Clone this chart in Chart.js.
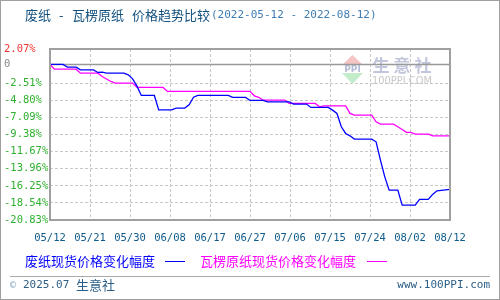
<!DOCTYPE html>
<html lang="zh-CN">
<head>
<meta charset="UTF-8">
<title>废纸 - 瓦楞原纸 价格趋势比较</title>
<script src="https://cdn.jsdelivr.net/npm/chart.js"></script>
<style>
    body { margin: 0; background: #fff; }
    #wrap { width: 500px; height: 300px; }
</style>
</head>
<body>
<div id="wrap"><canvas id="grafico" width="500" height="300"></canvas></div>
<script>
    // 横轴：自 2022-05-12 起的天数；纵轴：涨跌幅 %
    var xTickLabels = ['05/12', '05/21', '05/30', '06/08', '06/17', '06/27', '07/06', '07/15', '07/24', '08/02', '08/12'];
    var yTicks = [2.07, 0, -2.51, -4.80, -7.09, -9.38, -11.67, -13.96, -16.25, -18.54, -20.83];

    // 废纸现货价格变化幅度
    var feizhiDias = [0, 3, 4, 6, 7, 10, 11, 12, 13, 17, 18, 19, 20, 21, 24, 25, 28, 29, 31, 32,
        33, 34, 41, 42, 45, 46, 49, 50, 55, 56, 59, 60, 64, 65, 66, 67, 68, 69, 70, 74,
        75, 76, 77, 78, 80, 81, 84, 85, 87, 88, 89, 92];
    var feizhiValores = [0, 0, -0.36, -0.36, -0.72, -0.72, -1.07, -1.03, -1.16, -1.16, -1.39, -1.93, -2.9, -4.15, -4.15, -6.08, -6.08, -5.85, -5.85, -5.41,
        -4.38, -4.15, -4.15, -4.42, -4.42, -4.82, -4.82, -5.0, -5.0, -5.31, -5.31, -5.76, -5.76, -6.12, -6.56, -8.35, -9.24, -9.56, -10.0, -10.0,
        -10.36, -12.81, -15.05, -16.83, -16.83, -18.84, -18.84, -18.07, -18.07, -17.4, -16.92, -16.73];

    // 瓦楞原纸现货价格变化幅度
    var walengDias = [0, 1, 6, 7, 11, 12, 13, 14, 15, 19, 20, 26, 27, 46, 47, 48, 49, 54, 55, 61,
        62, 63, 68, 69, 70, 74, 75, 76, 79, 80, 81, 82, 83, 84, 87, 88, 92];
    var walengValores = [0, -0.63, -0.63, -1.16, -1.16, -1.61, -1.95, -2.28, -2.5, -2.5, -3.08, -3.08, -3.61, -3.61, -4.2, -4.4, -4.78, -4.78, -5.22, -5.22,
        -5.68, -5.54, -5.54, -6.56, -6.79, -6.79, -7.68, -7.99, -7.99, -8.35, -8.7, -9.1, -9.1, -9.33, -9.33, -9.56, -9.56];

    var totalDias = 92;
    var fonteMono = '"DejaVu Sans Mono", "Liberation Mono", monospace';
    var fonteCJK = '"Noto Sans CJK SC", sans-serif';

    function pontos(dias, valores) {
        return dias.map(function (d, i) { return { x: d, y: valores[i] }; });
    }

    // titulo, legenda, rodape, marca d'agua e moldura
    var decoracao = {
        id: 'decoracao',
        beforeDraw: function (chart) {
            var ctx = chart.ctx;
            ctx.save();
            ctx.fillStyle = '#fff';
            ctx.fillRect(0, 0, chart.width, chart.height);
            ctx.restore();
        },
        beforeDatasetsDraw: function (chart) {
            var ctx = chart.ctx;
            var y = chart.scales.y;
            var a = chart.chartArea;
            ctx.save();
            // marca d'agua
            ctx.fillStyle = '#f5c4c4';
            ctx.beginPath();
            ctx.moveTo(342, 65); ctx.lineTo(363, 65); ctx.lineTo(352.5, 55); ctx.closePath(); ctx.fill();
            ctx.fillStyle = '#c4ecca';
            ctx.beginPath();
            ctx.moveTo(342, 73); ctx.lineTo(363, 73); ctx.lineTo(352.5, 84); ctx.closePath(); ctx.fill();
            ctx.fillStyle = '#b4bcd8';
            ctx.font = 'bold 9px "DejaVu Sans", sans-serif';
            ctx.textAlign = 'center';
            ctx.textBaseline = 'middle';
            ctx.fillText('PPI', 352.5, 69.5);
            ctx.fillStyle = '#c2c6dc';
            ctx.font = 'bold 17px ' + fonteCJK;
            ['生', '意', '社'].forEach(function (c, i) { ctx.fillText(c, 381 + i * 21, 66); });
            ctx.fillStyle = '#c8c8c8';
            ctx.font = '10px "DejaVu Sans", sans-serif';
            ctx.textAlign = 'left';
            ctx.fillText('100PPI.COM', 372, 81, 60);
            // linha do zero
            var y0 = y.getPixelForValue(0);
            ctx.strokeStyle = '#999';
            ctx.lineWidth = 1.5;
            ctx.beginPath();
            ctx.moveTo(a.left, y0);
            ctx.lineTo(a.right, y0);
            ctx.stroke();
            ctx.restore();
        },
        afterDraw: function (chart) {
            var ctx = chart.ctx;
            var a = chart.chartArea;
            ctx.save();
            // moldura do grafico
            ctx.strokeStyle = '#a0a0a0';
            ctx.lineWidth = 2;
            ctx.strokeRect(a.left, a.top, a.right - a.left, a.bottom - a.top);
            // titulo
            ctx.textBaseline = 'middle';
            ctx.textAlign = 'left';
            ctx.fillStyle = '#13517f';
            ctx.font = '13px ' + fonteCJK;
            ctx.fillText('废纸', 25, 15);
            ctx.fillText('-', 59, 15);
            ctx.fillText('瓦楞原纸', 72, 15);
            ctx.fillText('价格趋势比较', 132, 15);
            ctx.fillStyle = '#3f7db3';
            ctx.font = '11px ' + fonteMono;
            ctx.fillText('(2022-05-12 - 2022-08-12)', 211, 15);
            // legenda
            var itens = [
                { x: 25, linha: 165, ds: chart.data.datasets[0] },
                { x: 200, linha: 367, ds: chart.data.datasets[1] }
            ];
            ctx.font = '13px ' + fonteCJK;
            itens.forEach(function (it) {
                ctx.fillStyle = it.ds.borderColor;
                ctx.fillText(it.ds.label, it.x, 261);
                ctx.strokeStyle = it.ds.borderColor;
                ctx.lineWidth = 1;
                ctx.beginPath();
                ctx.moveTo(it.linha, 261.5);
                ctx.lineTo(it.linha + 20, 261.5);
                ctx.stroke();
            });
            // rodape
            ctx.strokeStyle = '#aaa';
            ctx.lineWidth = 1;
            ctx.beginPath();
            ctx.moveTo(10, 276.5);
            ctx.lineTo(490, 276.5);
            ctx.stroke();
            ctx.fillStyle = '#8aa8c0';
            ctx.font = '10px ' + fonteMono;
            ctx.fillText('©', 10, 285);
            ctx.fillStyle = '#2b5f88';
            ctx.font = '11px ' + fonteMono;
            ctx.fillText('2025.07', 23, 285);
            ctx.font = '13px ' + fonteCJK;
            ctx.fillText('生意社', 76, 285);
            ctx.font = '11px ' + fonteMono;
            ctx.textAlign = 'right';
            ctx.fillText('www.100PPI.com', 490, 285);
            // borda externa
            ctx.strokeStyle = '#a0a0a0';
            ctx.lineWidth = 1;
            ctx.strokeRect(0.5, 0.5, 499, 299);
            ctx.restore();
        }
    };

    var ctx = document.getElementById('grafico').getContext('2d');
    var chart = new Chart(ctx, {
        type: 'line',
        data: {
            datasets: [{
                label: '废纸现货价格变化幅度',
                data: pontos(feizhiDias, feizhiValores),
                borderColor: '#0000ff',
                borderWidth: 1.3,
                pointRadius: 0,
                fill: false
            }, {
                label: '瓦楞原纸现货价格变化幅度',
                data: pontos(walengDias, walengValores),
                borderColor: '#ff00ff',
                borderWidth: 1.3,
                pointRadius: 0,
                fill: false
            }]
        },
        options: {
            responsive: false,
            animation: false,
            devicePixelRatio: 1,
            events: [],
            layout: { padding: { left: 4, top: 49, right: 50, bottom: 0 } },
            plugins: {
                legend: { display: false },
                tooltip: { enabled: false }
            },
            scales: {
                x: {
                    type: 'linear',
                    min: 0,
                    max: totalDias,
                    afterBuildTicks: function (scale) {
                        scale.ticks = xTickLabels.map(function (l, i) {
                            return { value: i * totalDias / (xTickLabels.length - 1) };
                        });
                    },
                    afterFit: function (scale) { scale.height = 80; },
                    grid: { color: '#c8c8c8', lineWidth: 1, drawTicks: false },
                    border: { display: false, dash: [3, 2] },
                    ticks: {
                        autoSkip: false,
                        maxRotation: 0,
                        padding: 12,
                        color: '#0f5a8c',
                        font: { family: fonteMono, size: 10.5 },
                        callback: function (v, i) { return xTickLabels[i]; }
                    }
                },
                y: {
                    min: -20.83,
                    max: 2.07,
                    afterBuildTicks: function (scale) {
                        scale.ticks = yTicks.map(function (v) { return { value: v }; });
                    },
                    afterFit: function (scale) { scale.width = 46; },
                    grid: { color: '#c8c8c8', lineWidth: 1, drawTicks: false },
                    border: { display: false, dash: [3, 2] },
                    ticks: {
                        crossAlign: 'far',
                        font: { family: fonteMono, size: 10.5 },
                        color: function (c) {
                            var v = c.tick.value;
                            if (v > 0) return '#ee3333';
                            if (v === 0) return '#888888';
                            return '#2eb02e';
                        },
                        callback: function (v) { return v === 0 ? '0' : v.toFixed(2) + '%'; }
                    }
                }
            }
        },
        plugins: [decoracao]
    });
</script>
</body>
</html>
